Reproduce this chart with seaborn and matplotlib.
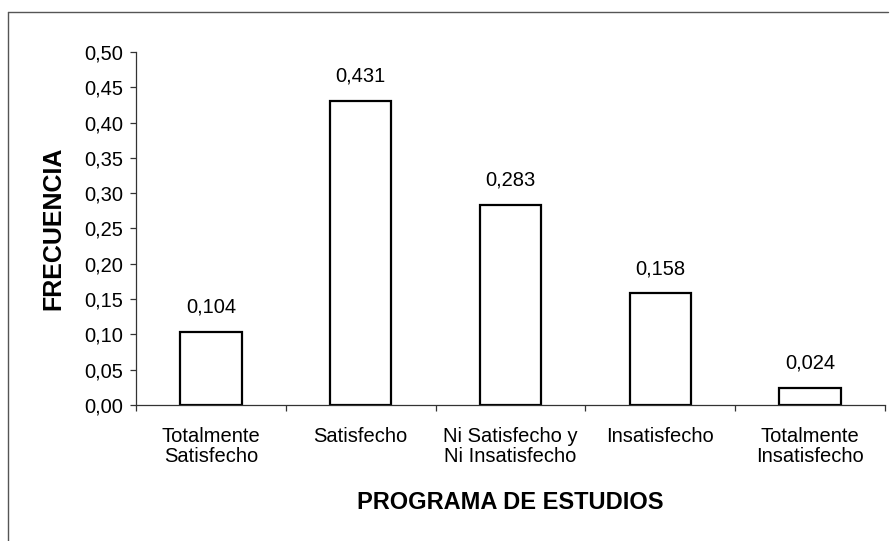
import matplotlib
matplotlib.use("Agg")
import matplotlib.pyplot as plt
import seaborn as sns
import pandas as pd
from matplotlib.ticker import FuncFormatter, FixedLocator
from matplotlib.lines import Line2D

categories = ["Totalmente\nSatisfecho", "Satisfecho", "Ni Satisfecho y\nNi Insatisfecho",
              "Insatisfecho", "Totalmente\nInsatisfecho"]
values = [0.104, 0.431, 0.283, 0.158, 0.024]
value_labels = ["0,104", "0,431", "0,283", "0,158", "0,024"]
yticks = [0.00, 0.05, 0.10, 0.15, 0.20, 0.25, 0.30, 0.35, 0.40, 0.45, 0.50]

sns.set_theme(style="white")
plt.rcParams['font.family'] = ['Liberation Sans', 'DejaVu Sans']
plt.rcParams['text.color'] = 'black'
plt.rcParams['axes.labelcolor'] = 'black'
plt.rcParams['xtick.color'] = 'black'
plt.rcParams['ytick.color'] = 'black'

df = pd.DataFrame({"cat": categories, "val": values})

fig = plt.figure(figsize=(8.92, 5.41), dpi=100)
ax = fig.add_axes([0.1525, 0.2514, 0.8395, 0.6525])

sns.barplot(data=df, x="cat", y="val", ax=ax, color="white", edgecolor="black",
            linewidth=1.6, width=0.41, saturation=1)

ax.set_ylim(0, 0.5)
ax.set_xlim(-0.5, 4.5)
ax.set_yticks(yticks)
ax.yaxis.set_major_formatter(FuncFormatter(lambda v, p: f"{v:.2f}".replace('.', ',')))

for s in ["top", "right"]:
    ax.spines[s].set_visible(False)
for s in ["left", "bottom"]:
    ax.spines[s].set_color("#333333")
    ax.spines[s].set_linewidth(0.9)

ax.tick_params(axis="y", which="major", direction="out", length=4, width=0.9,
               color="#333333", labelcolor="black", labelsize=14.5, pad=5, left=True)
ax.tick_params(axis="x", which="major", length=0, labelsize=14.5, pad=16,
               labelcolor="black")
ax.xaxis.set_minor_locator(FixedLocator([-0.5, 0.5, 1.5, 2.5, 3.5, 4.5]))
ax.tick_params(axis="x", which="minor", direction="out", length=4, width=0.9,
               color="#333333", bottom=True)
for lab in ax.get_xticklabels():
    lab.set_linespacing(1.08)

ax.bar_label(ax.containers[0], labels=value_labels, padding=11, fontsize=14.5,
             color="black")

ax.set_xlabel("PROGRAMA DE ESTUDIOS", fontsize=17, fontweight="bold", labelpad=18,
              color="black")
ax.set_ylabel("FRECUENCIA", fontsize=18, fontweight="bold", labelpad=14,
              color="black")

# outer frame lines (top and left)
fig.add_artist(Line2D([0.009, 0.995], [0.978, 0.978], transform=fig.transFigure,
                      color="#555555", linewidth=1.0))
fig.add_artist(Line2D([0.009, 0.009], [0.0, 0.978], transform=fig.transFigure,
                      color="#555555", linewidth=1.0))

fig.savefig("out.png", dpi=100, facecolor="white")
